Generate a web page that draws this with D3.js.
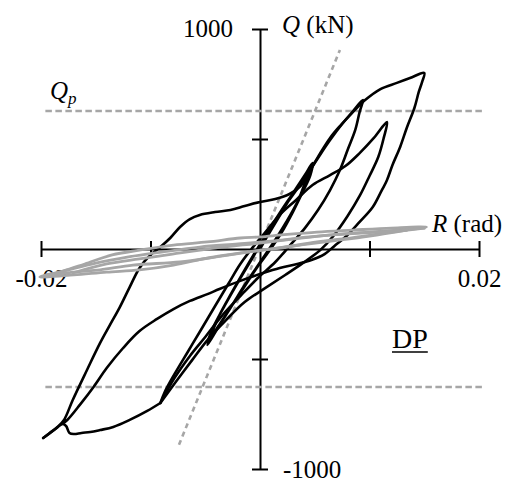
<!DOCTYPE html>
<html>
<head>
<meta charset="utf-8">
<script src="https://cdn.jsdelivr.net/npm/d3@7/dist/d3.min.js"></script>
<style>
  html, body { margin: 0; padding: 0; background: #fff; }
  svg { display: block; }
  text { font-family: "Liberation Serif", "Times New Roman", serif; fill: #000; }
</style>
</head>
<body>
<svg id="chart" width="518" height="495"></svg>
<script>
// Storey drift angle R (rad) vs. shear force Q (kN), specimen DP.

const xTicks = [-0.02, -0.01, 0.01, 0.02];
const xTickLabels = ["-0.02", "", "", "0.02"];
const yTicks = [-1000, -500, 500, 1000];
const yTickLabels = ["-1000", "", "", "1000"];

// Plastic strength and initial elastic stiffness reference lines
const plasticStrength = 627;            // Qp (kN)
const qpExtent = [-0.0196, 0.0203];     // R range of the Qp lines
const elasticLine = [[-0.0074, -890], [0.0073, 905]];

// Black record: small cycles, two cycles at 0.01 rad, large excursion
const smallCycles = [
  [0, 0], [0.0009, 77], [0.0020, 168], [0.0032, 268], [0.0041, 336], [0.0048, 391],
  [0.0046, 336], [0.0039, 259], [0.0030, 168], [0.0020, 77], [0.0009, -5], [-0.0003, -86],
  [-0.0015, -177], [-0.0027, -268], [-0.0038, -355], [-0.0048, -436],
  [-0.0044, -382], [-0.0037, -300], [-0.0026, -200], [-0.0014, -95], [-0.0002, 5],
  [0.0011, 109], [0.0024, 209], [0.0037, 300], [0.0047, 382],
  [0.0042, 314], [0.0035, 223], [0.0024, 123], [0.0012, 27], [-0.0001, -68],
  [-0.0014, -164], [-0.0026, -259], [-0.0038, -350], [-0.0048, -427],
  [-0.0043, -359], [-0.0032, -255], [-0.0020, -150], [-0.0008, -50], [0.0004, 50],
  [0.0017, 155], [0.0030, 245], [0.0041, 323]
];
const cycle01First = [
  [0.0041, 323], [0.0053, 414], [0.0064, 495], [0.0075, 568], [0.0085, 627], [0.0094, 677],
  [0.0091, 623], [0.0087, 541], [0.0080, 450], [0.0073, 359], [0.0064, 268], [0.0053, 177],
  [0.0041, 95], [0.0027, 14], [0.0014, -59], [-0.0002, -132], [-0.0018, -214],
  [-0.0035, -305], [-0.0050, -400], [-0.0064, -486], [-0.0078, -586], [-0.0091, -700]
];
const cycle01Second = [
  [-0.0091, -700], [-0.0087, -650], [-0.0078, -568], [-0.0066, -468], [-0.0054, -368],
  [-0.0041, -259], [-0.0029, -159], [-0.0018, -68], [-0.0007, 5], [0.0005, 77],
  [0.0018, 155], [0.0033, 223], [0.0048, 291], [0.0064, 336], [0.0078, 377],
  [0.0091, 436], [0.0104, 505], [0.0116, 577],
  [0.0113, 505], [0.0108, 418], [0.0100, 332], [0.0091, 241], [0.0080, 150],
  [0.0067, 59], [0.0055, -5], [0.0039, -64], [0.0023, -118], [0.0005, -177],
  [-0.0014, -241], [-0.0031, -323], [-0.0048, -414], [-0.0062, -505], [-0.0077, -605],
  [-0.0091, -700]
];
const negativeExcursion = [
  [-0.0091, -700], [-0.0103, -736], [-0.0119, -777], [-0.0134, -809], [-0.0146, -823],
  [-0.0155, -832], [-0.0163, -836], [-0.0170, -841], [-0.0174, -836], [-0.0177, -805],
  [-0.0180, -795], [-0.0188, -823], [-0.0198, -859]
];
const largeCycle = [
  [-0.0198, -859], [-0.0192, -836], [-0.0185, -809], [-0.0179, -777], [-0.0171, -686],
  [-0.0158, -550], [-0.0146, -427], [-0.0137, -345], [-0.0128, -264], [-0.0119, -173],
  [-0.0110, -86], [-0.0100, -27], [-0.0091, 9], [-0.0082, 50], [-0.0073, 100],
  [-0.0064, 136], [-0.0055, 155], [-0.0041, 168], [-0.0027, 177], [-0.0014, 195],
  [0, 214], [0.0014, 227], [0.0027, 250], [0.0037, 286], [0.0046, 359], [0.0055, 436],
  [0.0064, 505], [0.0073, 559], [0.0084, 618], [0.0096, 677], [0.0110, 727],
  [0.0125, 755], [0.0137, 777], [0.0150, 800],
  [0.0148, 759], [0.0145, 714], [0.0141, 641], [0.0134, 550], [0.0128, 464],
  [0.0121, 382], [0.0116, 314], [0.0110, 255], [0.0103, 191], [0.0091, 123],
  [0.0079, 59], [0.0068, 14], [0.0059, -23], [0.0047, -50], [0.0034, -68],
  [0.0018, -86], [0, -114], [-0.0018, -145], [-0.0037, -182], [-0.0048, -205],
  [-0.0064, -236], [-0.0079, -273], [-0.0094, -318], [-0.0110, -373], [-0.0125, -450],
  [-0.0140, -541], [-0.0152, -627], [-0.0164, -705], [-0.0176, -777], [-0.0180, -791]
];

// Grey record: cycles after fracture
const residualFirst = [
  [0, -5], [0.0021, 5], [0.0052, 32], [0.0085, 52], [0.0120, 77], [0.0152, 100],
  [0.0120, 95], [0.0085, 86], [0.0052, 77], [0.0020, 64], [0, 55], [-0.0018, 50],
  [-0.0048, 32], [-0.0079, 18], [-0.0110, -5], [-0.0135, -27], [-0.0160, -68],
  [-0.0180, -100], [-0.0201, -127],
  [-0.0170, -118], [-0.0140, -105], [-0.0110, -95], [-0.0079, -73], [-0.0048, -41],
  [-0.0018, -18], [0.0018, 5], [0.0052, 32], [0.0085, 52], [0.0120, 77], [0.0150, 95]
];
const residualSecond = [
  [0.0150, 95], [0.0115, 82], [0.0080, 70], [0.0045, 55], [0.0010, 36], [-0.0020, 23],
  [-0.0055, 9], [-0.0090, -14], [-0.0120, -36], [-0.0150, -64], [-0.0175, -95], [-0.0198, -125],
  [-0.0170, -105], [-0.0146, -95], [-0.0116, -73], [-0.0073, -59], [-0.0040, -36],
  [-0.0005, -10], [0.0030, 14], [0.0065, 36], [0.0100, 59], [0.0134, 86]
];
const residualThird = [
  [0.0134, 86], [0.0100, 75], [0.0065, 64], [0.0030, 45], [0, 27], [-0.0040, 5],
  [-0.0080, -23], [-0.0110, -45], [-0.0140, -68], [-0.0171, -109]
];

const blackSeries = [smallCycles, cycle01First, cycle01Second, negativeExcursion, largeCycle];
const greySeries = [residualFirst, residualSecond, residualThird];

const svg = d3.select("#chart");
const x = d3.scaleLinear().domain([-0.02, 0.02]).range([41, 479]);
const y = d3.scaleLinear().domain([-1000, 1000]).range([469, 29]);
const GREY = "#a6a6a6";
const FS = 25;

// Axes crossing at the origin
const xAxis = svg.append("g")
  .attr("transform", `translate(0,${y(0)})`)
  .call(d3.axisBottom(x).tickValues(xTicks).tickSize(8).tickSizeOuter(0)
    .tickFormat((d, i) => xTickLabels[i]).tickPadding(12));
xAxis.select(".domain").attr("stroke", "#000").attr("stroke-width", 2);
xAxis.selectAll(".tick line").attr("y1", -8).attr("y2", 8).attr("stroke-width", 2);
xAxis.selectAll(".tick text").attr("font-size", FS)
  .attr("font-family", "Liberation Serif, serif").attr("fill", "#000").attr("dy", "0.72em");

const yAxis = svg.append("g")
  .attr("transform", `translate(${x(0)},0)`)
  .call(d3.axisLeft(y).tickValues(yTicks).tickSize(8).tickSizeOuter(0).tickFormat(""));
yAxis.select(".domain").attr("stroke", "#000").attr("stroke-width", 2);
yAxis.selectAll(".tick line").attr("x1", 8).attr("x2", -8).attr("stroke-width", 2);

// y tick labels: top one on the left, bottom one on the right
svg.append("text").attr("x", x(0) - 27).attr("y", y(1000) + 8)
  .attr("text-anchor", "end").attr("font-size", FS).text(yTickLabels[3]);
svg.append("text").attr("x", x(0) + 23).attr("y", y(-1000) + 9)
  .attr("text-anchor", "start").attr("font-size", FS).text(yTickLabels[0]);

// Axis titles
const qTitle = svg.append("text").attr("x", x(0) + 22).attr("y", 33).attr("font-size", FS);
qTitle.append("tspan").attr("font-style", "italic").text("Q");
qTitle.append("tspan").text(" (kN)");

const rTitle = svg.append("text").attr("x", 432).attr("y", 232).attr("font-size", FS);
rTitle.append("tspan").attr("font-style", "italic").text("R");
rTitle.append("tspan").text(" (rad)");

// Reference lines
const line = d3.line().x(d => x(d[0])).y(d => y(d[1]));
[plasticStrength, -plasticStrength].forEach(q => {
  svg.append("path")
    .attr("d", line([[qpExtent[0], q], [qpExtent[1], q]]))
    .attr("fill", "none").attr("stroke", GREY).attr("stroke-width", 2.6)
    .attr("stroke-dasharray", "6.5,3.5");
});
svg.append("path")
  .attr("d", line(elasticLine))
  .attr("fill", "none").attr("stroke", GREY).attr("stroke-width", 2.6)
  .attr("stroke-dasharray", "5,4");

const qp = svg.append("text").attr("x", 50).attr("y", y(plasticStrength) - 12).attr("font-size", FS);
qp.append("tspan").attr("font-style", "italic").text("Q");
qp.append("tspan").attr("font-style", "italic").attr("font-size", 17).attr("dy", 5).text("p");

// Hysteresis curves
const curve = d3.line().x(d => x(d[0])).y(d => y(d[1])).curve(d3.curveCatmullRom.alpha(0.5));
svg.append("g").selectAll("path").data(blackSeries).join("path")
  .attr("d", curve)
  .attr("fill", "none").attr("stroke", "#000").attr("stroke-width", 2.6)
  .attr("stroke-linejoin", "round").attr("stroke-linecap", "round");
svg.append("g").selectAll("path").data(greySeries).join("path")
  .attr("d", curve)
  .attr("fill", "none").attr("stroke", GREY).attr("stroke-width", 2.8)
  .attr("stroke-linejoin", "round").attr("stroke-linecap", "round");

// Specimen name
const dp = svg.append("text").attr("x", 392).attr("y", 348).attr("font-size", 28).text("DP");
const bb = dp.node().getBBox();
svg.append("line").attr("x1", bb.x).attr("x2", bb.x + bb.width)
  .attr("y1", 352).attr("y2", 352).attr("stroke", "#000").attr("stroke-width", 1.6);
</script>
</body>
</html>
